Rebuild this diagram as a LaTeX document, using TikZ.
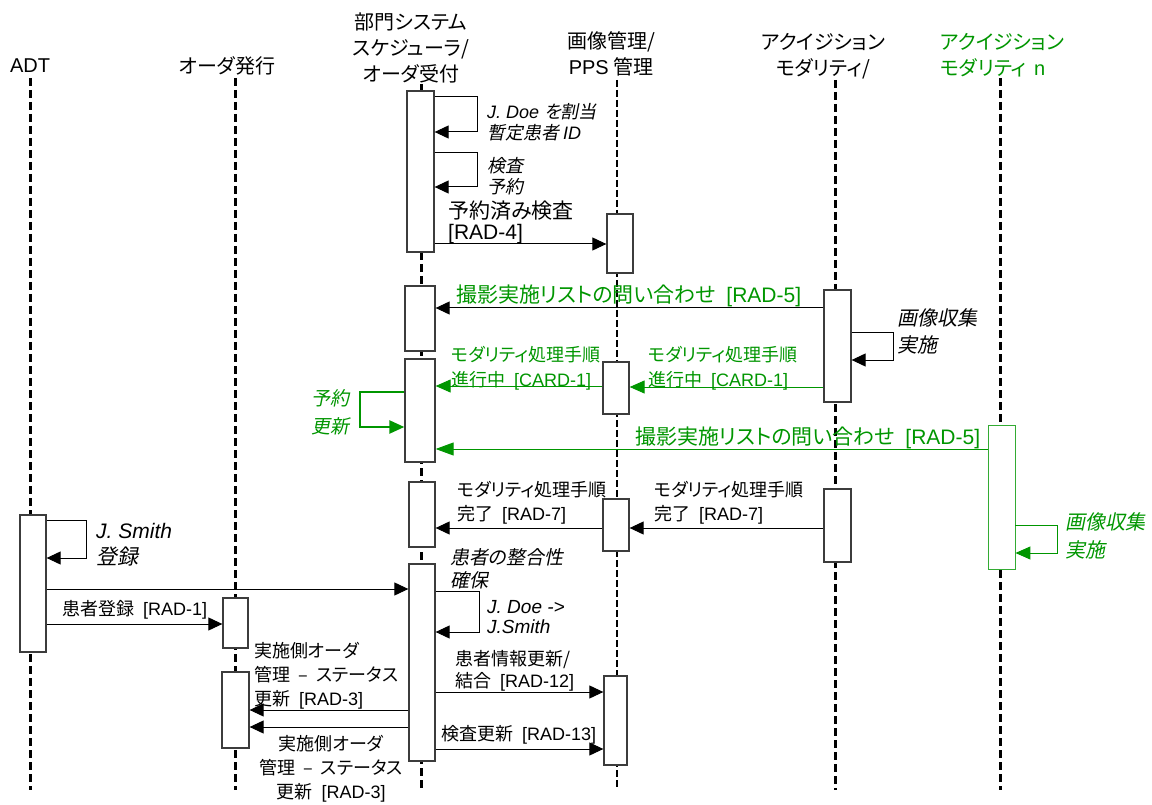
\documentclass[tikz,border=0pt]{standalone}
\usepackage{fontspec}
\setmainfont{Noto Sans CJK JP}[RawFeature=+palt, AutoFakeSlant=0.2]
\newfontfamily\lat{Liberation Sans}
\usetikzlibrary{arrows.meta}
\definecolor{grn}{RGB}{0,150,0}
\definecolor{boxc}{RGB}{60,60,60}
\begin{document}
\begin{tikzpicture}[x=1pt,y=-1pt,
  life/.style={line width=3pt, dash pattern=on 8pt off 4pt},
  thinlife/.style={line width=1.1pt, dash pattern=on 7pt off 3pt},
  actbox/.style={draw=boxc, line width=1.3pt, fill=white, inner sep=0pt},
  gbox/.style={draw=grn!80, line width=0.9pt, fill=white, inner sep=0pt},
  msg/.style={line width=1pt, -{Triangle[length=14pt,width=13pt]}},
  gmsg/.style={msg, draw=grn, -{Triangle[length=15pt,width=13pt, fill=grn]}},
  hdr/.style={inner sep=0pt, font=\fontsize{20}{26}\selectfont},
  lbl/.style={inner sep=0pt, align=left, anchor=west, font=\fontsize{18}{25}\selectfont},
  ilbl/.style={inner sep=0pt, align=left, anchor=west, font=\itshape\fontsize{19}{23}\selectfont},
]
\useasboundingbox (0,0) rectangle (1152,805);
\fill[white] (0,0) rectangle (1152,805);

% headers
\node[hdr] (hADT) at (30,66) {\lat ADT};
\node[hdr] (hORD) at (227,66) {オーダ発行};
\node[hdr, align=center] (hDSS) at (411,48) {部門システム\\スケジューラ/\\オーダ受付};
\node[hdr, align=center] (hPPS) at (611,54) {画像管理/\\{\lat PPS} 管理};
\node[hdr, align=center] (hMOD) at (823,56) {アクイジション\\モダリティ/};
\node[hdr, align=left, anchor=west, text=grn] (hMODN) at (940,55) {アクイジション\\モダリティ\ \,{\lat n}};

% lifelines
\draw[life] (30,78) -- (30,790);
\draw[life] (235,78) -- (235,790);
\draw[life] (421,84) -- (421,790);
\draw[thinlife] (617,80) -- (617,790);
\draw[life] (835,80) -- (835,790);
\draw[life] (1000,78) -- (1000,790);

% activation boxes
\node[actbox, minimum width=27pt, minimum height=161pt] (s1) at (420.5,171.5) {};
\node[actbox, minimum width=26pt, minimum height=59pt] (p1) at (620,243.5) {};
\node[actbox, minimum width=30pt, minimum height=65pt] (s2) at (420,318.5) {};
\node[actbox, minimum width=27pt, minimum height=112pt] (m1) at (837.5,346) {};
\node[actbox, minimum width=30pt, minimum height=103pt] (s3) at (420,410.5) {};
\node[actbox, minimum width=26pt, minimum height=52pt] (p2) at (616,388) {};
\node[gbox, minimum width=27pt, minimum height=144pt] (n1) at (1001.5,497) {};
\node[actbox, minimum width=26pt, minimum height=65pt] (s4) at (422,514.5) {};
\node[actbox, minimum width=26pt, minimum height=52pt] (p3) at (616,525) {};
\node[actbox, minimum width=27pt, minimum height=73pt] (m2) at (837.5,525.5) {};
\node[actbox, minimum width=26pt, minimum height=137pt] (a1) at (33,583.5) {};
\node[actbox, minimum width=25pt, minimum height=50pt] (o1) at (235.5,623) {};
\node[actbox, minimum width=26pt, minimum height=197pt] (s5) at (422,662.5) {};
\node[actbox, minimum width=23pt, minimum height=89pt] (p4) at (615.5,720.5) {};
\node[actbox, minimum width=27pt, minimum height=76pt] (o2) at (235.5,710) {};

% messages
\draw[msg] (s1.east |- 0,97) -- (477,97) -- (477,132) -- (s1.east |- 0,132);
\draw[msg] (s1.east |- 0,153) -- (477,153) -- (477,187) -- (s1.east |- 0,187);
\draw[msg] (s1.east |- 0,244) -- (p1.west |- 0,244);
\draw[msg] (m1.west |- 0,308) -- (s2.east |- 0,308);
\draw[msg] (m1.east |- 0,332) -- (893,332) -- (893,360) -- (m1.east |- 0,360);
\draw[gmsg] (m1.west |- 0,387) -- (p2.east |- 0,387);
\draw[gmsg] (p2.west |- 0,386) -- (s3.east |- 0,386);
\draw[gmsg, line width=2.4pt] (s3.west |- 0,392) -- (360,392) -- (360,427) -- (s3.west |- 0,427);
\draw[gmsg, -{Triangle[length=18pt,width=13pt, fill=grn]}] (n1.west |- 0,449) -- (s3.east |- 0,449);
\draw[gmsg] (n1.east |- 0,525) -- (1057,525) -- (1057,553) -- (n1.east |- 0,553);
\draw[msg] (m2.west |- 0,528) -- (p3.east |- 0,528);
\draw[msg] (p3.west |- 0,528) -- (s4.east |- 0,528);
\draw[msg] (a1.east |- 0,520) -- (86,520) -- (86,558) -- (a1.east |- 0,558);
\draw[msg] (a1.east |- 0,589) -- (s5.west |- 0,589);
\draw[msg] (a1.east |- 0,624) -- (o1.west |- 0,624);
\draw[msg] (s5.east |- 0,591) -- (479,591) -- (479,632) -- (s5.east |- 0,632);
\draw[msg] (s5.east |- 0,692) -- (p4.west |- 0,692);
\draw[msg] (s5.east |- 0,749) -- (p4.west |- 0,749);
\draw[msg] (s5.west |- 0,710) -- (o2.east |- 0,710);
\draw[msg] (s5.west |- 0,727) -- (o2.east |- 0,727);

% labels
\node[ilbl, font=\itshape\fontsize{18}{21}\selectfont] (l1) at (487,122) {{\lat J. Doe }を割当\\暫定患者 {\lat ID}};
\node[ilbl, font=\itshape\fontsize{18}{21}\selectfont] (l2) at (487,176) {検査\\予約};
\node[lbl, font=\fontsize{21}{21}\selectfont] (l3) at (448,222) {予約済み検査\\{\lat [RAD-4]}};
\node[lbl, font=\fontsize{21}{25}\selectfont, text=grn] (l4) at (456,296) {撮影実施リストの問い合わせ {\lat\ [RAD-5]}};
\node[ilbl, font=\itshape\fontsize{20}{27}\selectfont] (l5) at (897,331) {画像収集\\実施};
\node[lbl, text=grn] (l6) at (451,368) {モダリティ処理手順\\進行中 {\lat\ [CARD-1]}};
\node[lbl, text=grn] (l7) at (648,368) {モダリティ処理手順\\進行中 {\lat\ [CARD-1]}};
\node[ilbl, font=\itshape\fontsize{19}{28}\selectfont, text=grn, anchor=east, align=right] (l8) at (350,412) {予約\\更新};
\node[lbl, font=\fontsize{21}{25}\selectfont, text=grn] (l9) at (635,438) {撮影実施リストの問い合わせ {\lat\ [RAD-5]}};
\node[ilbl, font=\itshape\fontsize{20}{28}\selectfont, text=grn] (l10) at (1065,536) {画像収集\\実施};
\node[lbl, font=\fontsize{18}{24}\selectfont] (l11) at (457,503) {モダリティ処理手順\\完了 {\lat\ [RAD-7]}};
\node[lbl, font=\fontsize{18}{24}\selectfont] (l12) at (654,503) {モダリティ処理手順\\完了 {\lat\ [RAD-7]}};
\node[ilbl, font=\itshape\fontsize{21}{26}\selectfont] (l13) at (96,545) {{\lat J. Smith}\\登録};
\node[lbl] (l14) at (62,610) {患者登録 {\lat\ [RAD-1]}};
\node[ilbl, font=\itshape\fontsize{19}{23}\selectfont] (l15) at (450,569) {患者の整合性\\確保};
\node[ilbl, font=\itshape\fontsize{19}{20}\selectfont] (l16) at (487,617) {{\lat J. Doe ->}\\{\lat J.Smith}};
\node[lbl, font=\fontsize{18}{22}\selectfont] (l17) at (455,671) {患者情報更新/\\結合 {\lat\ [RAD-12]}};
\node[lbl] (l18) at (441,735) {検査更新 {\lat\ [RAD-13]}};
\node[lbl, font=\fontsize{18}{24}\selectfont] (l19) at (254,676) {実施側オーダ\\管理\ \ –\ \ ステータス\\更新 {\lat\ [RAD-3]}};
\node[lbl, font=\fontsize{18}{24}\selectfont, anchor=center, align=center] (l20) at (331,769) {実施側オーダ\\管理\ \ –\ \ ステータス\\更新 {\lat\ [RAD-3]}};
\end{tikzpicture}
\end{document}
